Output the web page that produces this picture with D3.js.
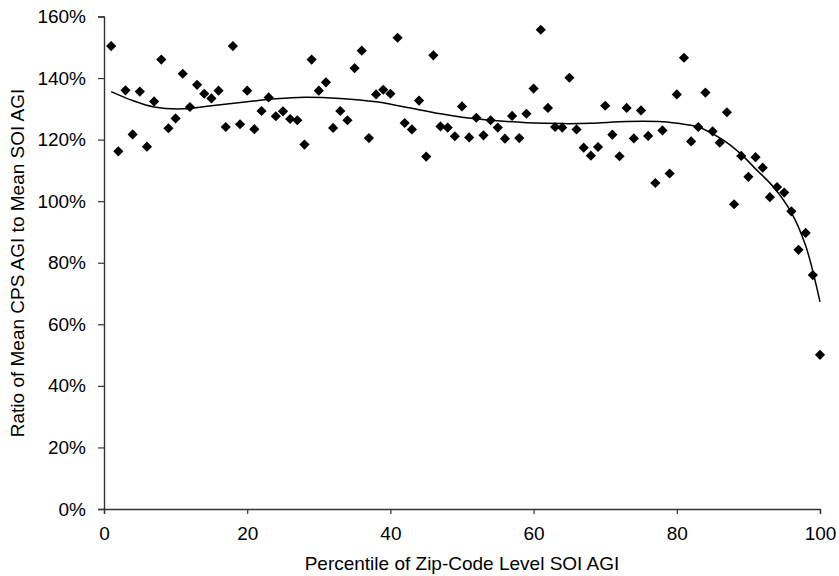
<!DOCTYPE html>
<meta charset="utf-8">
<script src="https://d3js.org/d3.v7.min.js"></script>
<style>
  body { margin: 0; background: #fff; }
  text { font-family: "Liberation Sans", Arial, sans-serif; fill: #000; }
</style>
<div id="chart"></div>
<script>

// percentile of zip-code level SOI AGI
var percentile = d3.range(1, 101);

// ratio of mean CPS AGI to mean SOI AGI (%)
var ratio = [
  150.4, 116.2, 136.0, 121.7, 135.6, 117.7, 132.4, 146.0, 123.7, 126.9,
  141.4, 130.6, 137.8, 134.9, 133.4, 135.9, 124.1, 150.4, 125.0, 135.9,
  123.4, 129.3, 133.7, 127.6, 129.2, 126.7, 126.3, 118.4, 146.0, 135.9,
  138.6, 123.8, 129.3, 126.3, 143.2, 148.9, 120.5, 134.7, 136.2, 134.9,
  153.1, 125.4, 123.3, 132.7, 114.5, 147.4, 124.3, 123.9, 121.1, 130.8,
  120.7, 127.1, 121.4, 126.3, 123.9, 120.3, 127.7, 120.5, 128.4, 136.6,
  155.7, 130.3, 124.1, 123.9, 140.1, 123.3, 117.4, 114.8, 117.6, 131.0,
  121.6, 114.6, 130.3, 120.4, 129.5, 121.2, 105.9, 123.0, 109.0, 134.7,
  146.6, 119.4, 124.1, 135.3, 122.7, 119.0, 128.9, 99.0, 114.7, 107.9,
  114.3, 110.9, 101.3, 104.6, 102.8, 96.7, 84.2, 89.7, 76.0, 50.1
];

// polynomial trend line
var trendX = [1, 4, 7, 11, 15, 20, 24, 28, 33, 38, 42, 47, 50, 54, 59, 64, 68, 73, 78, 81, 83, 86.5, 89, 91, 93.5, 96, 98, 100];
var trendY = [135.6, 132.7, 130.6, 130.0, 131.0, 132.3, 133.3, 133.8, 133.4, 132.3, 130.6, 128.4, 127.3, 126.3, 125.5, 125.2, 125.3, 125.9, 125.8, 125.0, 124.1, 119.8, 115.2, 110.5, 104.6, 96.3, 85.5, 67.3];

var yTicks = [0, 20, 40, 60, 80, 100, 120, 140, 160];
var xTicks = [0, 20, 40, 60, 80, 100];

var data = percentile.map(function(p, i) { return {x: p, y: ratio[i]}; });
var trend = trendX.map(function(v, i) { return [v, trendY[i]]; });

var width = 839, height = 576;

var svg = d3.select("#chart")
  .append("svg")
    .attr("width", width)
    .attr("height", height);

var x = d3.scaleLinear()
  .domain([0, 100])
  .range([104, 820]);

var y = d3.scaleLinear()
  .domain([0, 160])
  .range([509, 16.5]);

// y axis
var yAxis = svg.append("g")
  .attr("transform", "translate(" + x(0) + ",0)")
  .call(d3.axisLeft(y).tickValues(yTicks).tickSize(6).tickPadding(12)
    .tickFormat(function(d) { return d + "%"; }));

// x axis
var xAxis = svg.append("g")
  .attr("transform", "translate(0," + y(0) + ")")
  .call(d3.axisBottom(x).tickValues(xTicks).tickSize(5).tickPadding(13));

[xAxis, yAxis].forEach(function(ax) {
  ax.selectAll("path.domain").attr("stroke", "#333").attr("stroke-width", 1.4);
  ax.selectAll(".tick line").attr("stroke", "#333").attr("stroke-width", 1.2);
  ax.selectAll("text").style("font-size", "19px").attr("fill", "#000");
});

// axis titles
svg.append("text")
  .attr("x", 462)
  .attr("y", 570)
  .attr("text-anchor", "middle")
  .style("font-size", "19px")
  .text("Percentile of Zip-Code Level SOI AGI");

svg.append("text")
  .attr("transform", "translate(24,263) rotate(-90)")
  .attr("text-anchor", "middle")
  .style("font-size", "19px")
  .text("Ratio of Mean CPS AGI to Mean SOI AGI");

// trend line
svg.append("path")
  .datum(trend)
  .attr("fill", "none")
  .attr("stroke", "#000")
  .attr("stroke-width", 1.5)
  .attr("d", d3.line()
    .curve(d3.curveCatmullRom)
    .x(function(d) { return x(d[0]); })
    .y(function(d) { return y(d[1]); }));

// diamonds
svg.selectAll("path.pt")
  .data(data)
  .enter()
  .append("path")
    .attr("class", "pt")
    .attr("d", d3.symbol().type(d3.symbolSquare).size(52))
    .attr("transform", function(d) {
      return "translate(" + x(d.x) + "," + y(d.y) + ") rotate(45)";
    })
    .attr("fill", "#000");

</script>
